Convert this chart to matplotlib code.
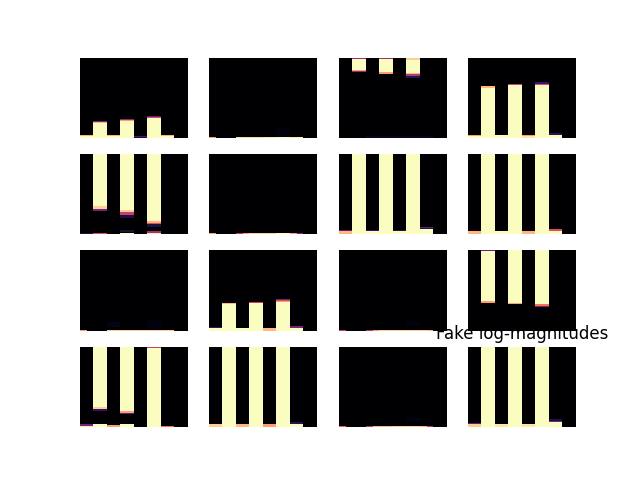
import numpy as np
import matplotlib
matplotlib.use("Agg")
import matplotlib.pyplot as plt

N_ROWS = 80   # frequency rows per panel
N_COLS = 16   # time frames per panel (drawn as 8 pairs)

# magma level runs (level, rows) from the bottom up, one list per column pair
panel_runs = [
    # row 1
    [[(1, 2), (0.85, 1)], [(1, 15), (0.85, 1), (0.35, 1)], [(1, 2), (0.85, 1)],
     [(1, 17), (0.8, 1), (0.4, 1)], [(0.1, 1), (0.25, 1)],
     [(1, 20), (0.6, 1), (0.3, 1)], [(1, 2), (0.85, 1)], []],
    [[], [], [], [], [], [(0, 1), (0.03, 9)], [], []],
    [[], [(0, 65), (0.4, 1), (0.8, 1), (1, 11), (0.45, 2)], [(0.06, 2)],
     [(0.06, 2), (0, 61), (0.8, 2), (1, 13), (0.45, 2)], [(0.06, 2)],
     [(0.06, 2), (0, 57), (0.15, 2), (0.5, 2), (0.85, 1), (1, 13), (0.9, 2), (0.1, 1)],
     [(0.06, 2)], []],
    [[(1, 2), (0.8, 1)], [(1, 49), (0.85, 2)], [(1, 3)], [(1, 52), (0.55, 1)],
     [(0.95, 2), (0.8, 1)], [(1, 52), (0.6, 1), (0.2, 2)], [(1, 3), (0.15, 2)], []],
    # row 2
    [[(0.12, 1)], [(0.6, 1), (0, 22), (0.35, 2), (0.9, 3), (1, 52)], [],
     [(1, 1), (0, 1), (0.12, 2), (0, 12), (0.12, 3), (0.55, 3), (0.9, 2), (1, 56)], [],
     [(0.95, 1), (0.45, 2), (0, 4), (0.12, 3), (0.6, 1), (0.85, 2), (1, 67)], [], []],
    [[], [], [], [], [], [], [], []],
    [[(0.85, 3), (0.3, 1)], [(1, 80)], [(1, 3), (0.2, 1)], [(1, 80)],
     [(1, 3), (0.15, 1)], [(1, 79), (0.9, 1)], [(1, 5), (0.15, 1), (0.3, 1)], []],
    [[(0.85, 3)], [(1, 80)], [(1, 3)], [(1, 80)], [(0.85, 3)], [(1, 80)],
     [(1, 3), (0.6, 2)], []],
    # row 3
    [[], [], [(0, 4), (0.04, 5)], [], [], [(0, 1), (0.03, 10)], [], []],
    [[(1, 3), (0.2, 1)], [(1, 27), (0.85, 1)], [(1, 3)], [(1, 28), (0.55, 1)],
     [(0.85, 3)], [(1, 29), (0.8, 1), (0.6, 1), (0.35, 1)], [(1, 3), (0.35, 2)], []],
    [[], [], [], [], [], [(0, 5), (0.03, 5)], [], []],
    [[], [(0, 28), (0.8, 2), (1, 49), (0.3, 1)], [], [(0, 27), (0.8, 1), (1, 52)], [],
     [(0, 24), (0.35, 1), (0.7, 2), (1, 53)], [], []],
    # row 4
    [[(0.95, 1), (0.35, 2)], [(1, 3), (0, 13), (0.2, 2), (0.9, 2), (1, 60)], [(0.8, 2)],
     [(1, 3), (0, 10), (0.3, 1), (0.8, 2), (1, 63), (0.9, 1)], [],
     [(1, 78), (0.55, 2)], [(0.7, 1)], []],
    [[(0.9, 3)], [(1, 80)], [(0.85, 3)], [(1, 80)], [(0.8, 3)], [(1, 80)],
     [(1, 3), (0.15, 2)], []],
    [[], [], [], [], [], [(0, 5), (0.03, 5)], [], []],
    [[(0.9, 3), (0.3, 1)], [(1, 80)], [(0.95, 3)], [(1, 80)], [(0.95, 3)], [(1, 80)],
     [(1, 5), (0.35, 1), (0.12, 2)], []],
]

# lowest row of the quiet panels, frame by frame
bottom_rows = {
    1: [0.8, 0, 0, 0, 0.92, 0.92, 0.92, 0.92, 0.95, 0.95, 1, 1, 0.95, 0.95, 0, 0],
    5: [0.8, 0, 0, 0, 0.5, 0.8, 0.9, 0.9, 0.9, 0.9, 1, 1, 0.8, 0.35, 0, 0],
    8: [0.8, 0, 0, 0, 0.9, 0.9, 0.9, 0.9, 0.9, 0.9, 0.9, 0.9, 0.9, 0.9, 0, 0],
    10: [0.55, 0, 0, 0, 0.5, 0.8, 0.9, 0.9, 0.9, 0.9, 0.9, 0.9, 0.9, 0.85, 0, 0],
    14: [0.65, 0, 0, 0, 0.5, 0.85, 0.85, 0.85, 0.9, 0.9, 0.9, 0.9, 0.85, 0.5, 0, 0],
}


def build_panel(runs, bottom=None):
    img = np.zeros((N_ROWS, N_COLS))
    for j, col_runs in enumerate(runs):
        row = 0
        for level, n in col_runs:
            img[row:row + n, 2 * j:2 * j + 2] = level
            row += n
    if bottom is not None:
        img[0, :] = bottom
    return img


fig, axes = plt.subplots(4, 4, figsize=(6.4, 4.8))
for i, ax in enumerate(axes.flat):
    img = build_panel(panel_runs[i], bottom_rows.get(i))
    ax.imshow(img, origin="lower", aspect="auto", cmap="magma",
              vmin=0, vmax=1, interpolation="nearest")
    ax.axis("off")
plt.title("Fake log-magnitudes")
plt.savefig("out.png", dpi=100)
